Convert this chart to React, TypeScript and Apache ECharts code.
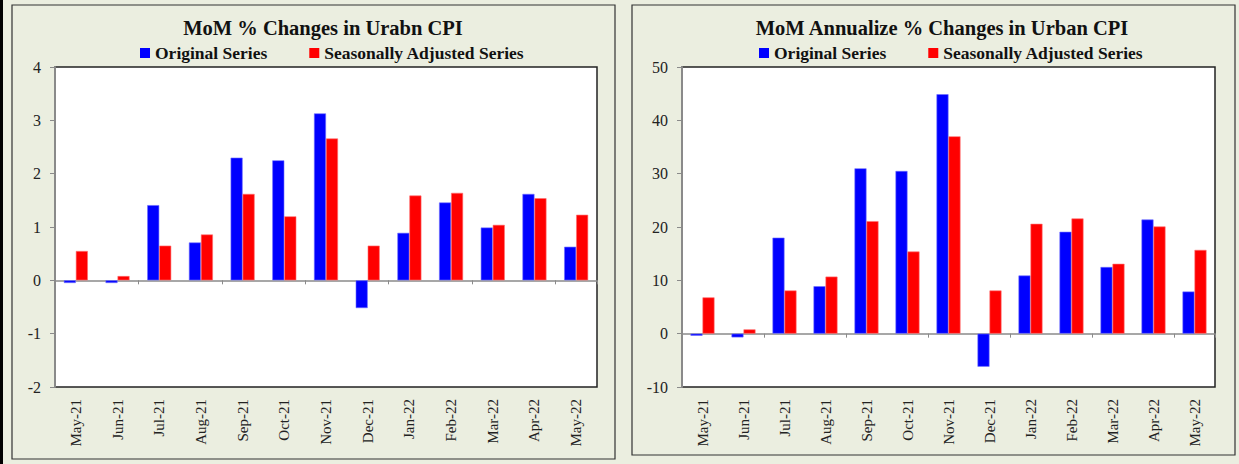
import React, { useEffect, useRef } from "react";
import * as echarts from "echarts";

const months = ["May-21", "Jun-21", "Jul-21", "Aug-21", "Sep-21", "Oct-21", "Nov-21", "Dec-21", "Jan-22", "Feb-22", "Mar-22", "Apr-22", "May-22"];
const momOriginal = [-0.05, -0.05, 1.41, 0.71, 2.3, 2.25, 3.13, -0.52, 0.89, 1.46, 0.99, 1.62, 0.63];
const momAdjusted = [0.55, 0.08, 0.65, 0.86, 1.62, 1.2, 2.66, 0.65, 1.59, 1.64, 1.04, 1.54, 1.23];
const annOriginal = [-0.4, -0.7, 18.0, 8.9, 31.0, 30.5, 44.9, -6.2, 10.9, 19.1, 12.5, 21.4, 7.9];
const annAdjusted = [6.8, 0.8, 8.1, 10.7, 21.1, 15.4, 37.0, 8.1, 20.6, 21.6, 13.1, 20.1, 15.7];
const titles = ["MoM % Changes in Urabn CPI", "MoM Annualize % Changes in Urban CPI"];
const seriesNames = ["Original Series", "Seasonally Adjusted Series"];

const FONT = "'Liberation Serif', 'DejaVu Serif', serif";
const BG = "#ebeee0";

export default function App() {
  const ref = useRef<HTMLDivElement>(null);
  useEffect(() => {
    document.body.style.margin = "0";
    const chart = echarts.init(ref.current!, null, { renderer: "svg" });
    const grids = [
      { left: 55, top: 67, width: 542, height: 320 },
      { left: 682, top: 67, width: 533, height: 320 },
    ];
    const panels = [
      { x: 12, y: 5, w: 603, h: 454 },
      { x: 632, y: 5, w: 603, h: 450 },
    ];
    const titleCenter = [318, 937];
    const legendLeft = [135, 754];
    const yRanges = [
      { min: -2, max: 4, interval: 1 },
      { min: -10, max: 50, interval: 10 },
    ];
    const data = [
      [momOriginal, momAdjusted],
      [annOriginal, annAdjusted],
    ];
    const colors = ["#0000ff", "#ff0000"];
    const borders = ["#6f6fff", "#ff7070"];

    const option: any = {
      animation: false,
      backgroundColor: BG,
      graphic: [
        { type: "rect", z: -1, shape: { x: 0, y: 0, width: 3, height: 464 }, style: { fill: "#000" } },
        ...panels.map((p) => ({
          type: "rect",
          z: -1,
          shape: { x: p.x, y: p.y, width: p.w, height: p.h },
          style: { fill: BG, stroke: "#333", lineWidth: 1.2 },
        })),
      ],
      title: titles.map((t, i) => ({
        text: t,
        left: titleCenter[i],
        textAlign: "center",
        top: 12,
        textStyle: { fontFamily: FONT, fontWeight: "bold", fontSize: 20.5, color: "#111" },
      })),
      legend: [0, 1].map((i) => ({
        data: seriesNames,
        left: legendLeft[i],
        top: 39,
        width: 480,
        icon: "rect",
        itemWidth: 10,
        itemHeight: 10,
        itemGap: 42,
        selectedMode: false,
        itemStyle: { borderWidth: 0 },
        textStyle: { fontFamily: FONT, fontWeight: "bold", fontSize: 17.5, color: "#111" },
      })),
      grid: grids.map((g) => ({
        ...g,
        show: true,
        backgroundColor: "#fff",
        borderColor: "#222",
        borderWidth: 1.5,
        containLabel: false,
      })),
      xAxis: [0, 1].flatMap((i) => [
        {
          type: "category",
          gridIndex: i,
          data: months,
          axisLine: { onZero: true, lineStyle: { color: "#8a8a8a", width: 1.5 } },
          axisTick: { show: true, length: 4, lineStyle: { color: "#8a8a8a" } },
          axisLabel: { show: false },
          splitLine: { show: false },
        },
        {
          type: "category",
          gridIndex: i,
          data: months,
          position: "bottom",
          axisLine: { show: false, onZero: false },
          axisTick: { show: false },
          axisLabel: {
            rotate: 90,
            margin: 12,
            fontFamily: FONT,
            fontSize: 15,
            color: "#222",
          },
          splitLine: { show: false },
        },
      ]),
      yAxis: [0, 1].map((i) => ({
        type: "value",
        gridIndex: i,
        min: yRanges[i].min,
        max: yRanges[i].max,
        interval: yRanges[i].interval,
        axisLine: { show: true, lineStyle: { color: "#8a8a8a", width: 2 } },
        axisTick: { show: true, length: 5, lineStyle: { color: "#8a8a8a" } },
        axisLabel: { margin: 14, fontFamily: FONT, fontSize: 16, color: "#222" },
        splitLine: { show: false },
      })),
      series: [0, 1].flatMap((i) =>
        [0, 1].map((s) => ({
          type: "bar",
          name: seriesNames[s],
          xAxisIndex: i * 2,
          yAxisIndex: i,
          data: data[i][s],
          barWidth: 12,
          barGap: "0%",
          itemStyle: { color: colors[s], borderColor: borders[s], borderWidth: 0.6 },
        }))
      ),
    };
    chart.setOption(option);
    return () => chart.dispose();
  }, []);
  return <div ref={ref} style={{ width: 1239, height: 464 }} />;
}
